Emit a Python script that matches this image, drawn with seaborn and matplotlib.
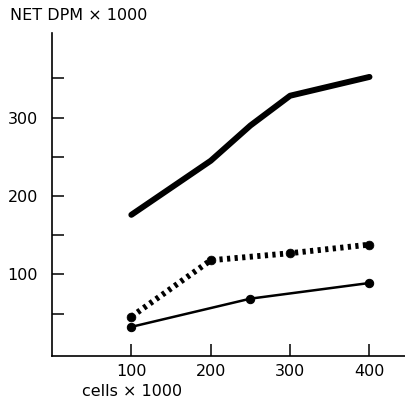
import matplotlib
matplotlib.use("Agg")
import matplotlib.pyplot as plt
import seaborn as sns
import pandas as pd

# values (cells x1000 vs net dpm x1000)
thick_x = [100, 200, 250, 300, 400]
thick_y = [176, 245, 290, 328, 352]
dotted_x = [100, 200, 300, 400]
dotted_y = [46, 118, 127, 138]
thin_x = [100, 250, 400]
thin_y = [33, 69, 89]

x_ticks = [100, 200, 300, 400]
y_ticks = [50, 100, 150, 200, 250, 300, 350]
y_labels = ["", "100", "", "200", "", "300", ""]

sns.set_style("ticks")
plt.rcParams['font.family'] = ['DejaVu Sans']
plt.rcParams['text.color'] = 'black'

fig = plt.figure(figsize=(4.06, 4.03), dpi=100)
ax = fig.add_axes([0.128, 0.117, 0.872, 0.801])

thick = pd.DataFrame({"x": thick_x, "y": thick_y})
dotted = pd.DataFrame({"x": dotted_x, "y": dotted_y})
thin = pd.DataFrame({"x": thin_x, "y": thin_y})

sns.lineplot(data=thick, x="x", y="y", ax=ax, color="black", lw=4.3,
             solid_capstyle="round", solid_joinstyle="round")
sns.lineplot(data=dotted, x="x", y="y", ax=ax, color="black", lw=4.2,
             dashes=False, linestyle=(0, (0.55, 0.75)), dash_capstyle="butt")
sns.scatterplot(data=dotted, x="x", y="y", ax=ax, color="black", s=40,
                edgecolor="black", zorder=3)
sns.lineplot(data=thin, x="x", y="y", ax=ax, color="black", lw=1.8,
             marker="o", markersize=6, markeredgecolor="black")

ax.set_xlim(0, 446)
ax.set_ylim(-4, 408)
ax.set_xticks(x_ticks)
ax.set_xticklabels([str(v) for v in x_ticks])
ax.set_yticks(y_ticks)
ax.set_yticklabels(y_labels)
ax.tick_params(axis="both", direction="in", length=8.5, width=1.1,
               labelsize=11.5, color="black", labelcolor="black")
ax.tick_params(axis="y", pad=10)
ax.tick_params(axis="x", pad=6)
for s in ["top", "right"]:
    ax.spines[s].set_visible(False)
for s in ["left", "bottom"]:
    ax.spines[s].set_linewidth(1.2)
    ax.spines[s].set_color("black")

ax.set_xlabel("")
ax.set_ylabel("")
fig.text(10 / 406, 1 - 15 / 403, "NET DPM × 1000", fontsize=11.5,
         va="center", ha="left", color="black")
fig.text(82 / 406, 1 - 392 / 403, "cells × 1000", fontsize=11.5,
         va="center", ha="left", color="black")

fig.savefig("out.png", dpi=100)
